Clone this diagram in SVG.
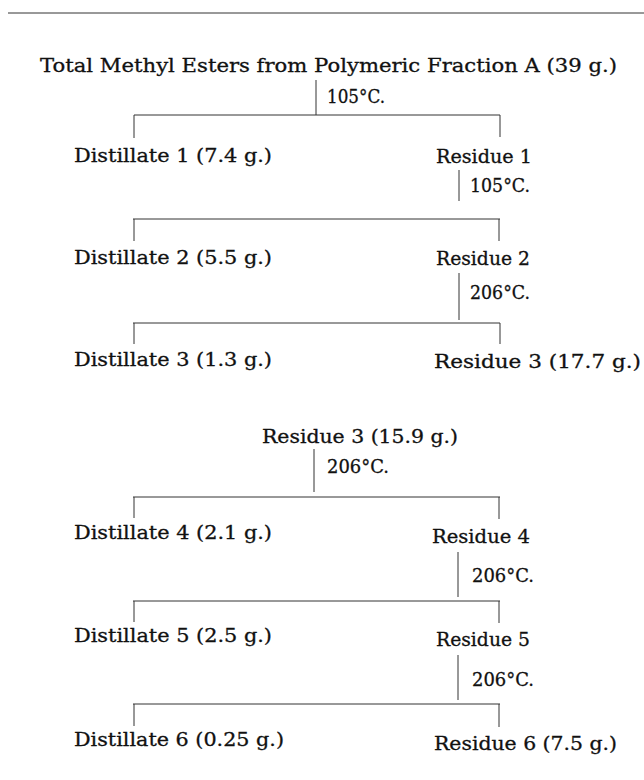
<svg xmlns="http://www.w3.org/2000/svg" width="644" height="780" viewBox="0 0 644 780">
<style>
text{font-family:"DejaVu Serif","Liberation Serif",serif;font-size:18.5px;fill:#111;stroke:#111;stroke-width:0.3}
.ln{stroke:#333;stroke-width:1;fill:none}
</style>
<rect width="644" height="780" fill="#fff"/>
<g id="connectors">
<line class="ln" x1="8" y1="13" x2="644" y2="13"/>
<path class="ln" d="M316 80V115M134 115H500M134 115V138M500 115V137"/>
<path class="ln" d="M459 170V201M133 219H500M134 219V241M499 219V241"/>
<path class="ln" d="M459 273V320M133 323H500M134 323V344M500 323V344"/>
<path class="ln" d="M314 449V492M133 497H500M134 497V518M499 497V519"/>
<path class="ln" d="M458 552V597M133 601H500M134 601V622M499 601V623"/>
<path class="ln" d="M458 655V700M133 704H500M134 704V726M499 704V727"/>
</g>
<g id="n0"><text x="40" y="72" textLength="577" lengthAdjust="spacingAndGlyphs">Total Methyl Esters from Polymeric Fraction A (39 g.)</text></g>
<g id="t1"><text x="327" y="103" textLength="58" lengthAdjust="spacingAndGlyphs">105°C.</text></g>
<g id="d1"><text x="74" y="162" textLength="198" lengthAdjust="spacingAndGlyphs">Distillate 1 (7.4 g.)</text></g>
<g id="r1"><text x="436" y="163" textLength="96" lengthAdjust="spacingAndGlyphs">Residue 1</text></g>
<g id="t2"><text x="470" y="192" textLength="60" lengthAdjust="spacingAndGlyphs">105°C.</text></g>
<g id="d2"><text x="74" y="264" textLength="198" lengthAdjust="spacingAndGlyphs">Distillate 2 (5.5 g.)</text></g>
<g id="r2"><text x="436" y="265" textLength="94" lengthAdjust="spacingAndGlyphs">Residue 2</text></g>
<g id="t3"><text x="470" y="299" textLength="60" lengthAdjust="spacingAndGlyphs">206°C.</text></g>
<g id="d3"><text x="74" y="366" textLength="198" lengthAdjust="spacingAndGlyphs">Distillate 3 (1.3 g.)</text></g>
<g id="r3"><text x="434" y="368" textLength="207" lengthAdjust="spacingAndGlyphs">Residue 3 (17.7 g.)</text></g>
<g id="r3b"><text x="262" y="443" textLength="196" lengthAdjust="spacingAndGlyphs">Residue 3 (15.9 g.)</text></g>
<g id="t4"><text x="327" y="473" textLength="62" lengthAdjust="spacingAndGlyphs">206°C.</text></g>
<g id="d4"><text x="74" y="539" textLength="198" lengthAdjust="spacingAndGlyphs">Distillate 4 (2.1 g.)</text></g>
<g id="r4"><text x="432" y="543" textLength="98" lengthAdjust="spacingAndGlyphs">Residue 4</text></g>
<g id="t5"><text x="472" y="582" textLength="62" lengthAdjust="spacingAndGlyphs">206°C.</text></g>
<g id="d5"><text x="74" y="642" textLength="198" lengthAdjust="spacingAndGlyphs">Distillate 5 (2.5 g.)</text></g>
<g id="r5"><text x="436" y="646" textLength="94" lengthAdjust="spacingAndGlyphs">Residue 5</text></g>
<g id="t6"><text x="472" y="686" textLength="62" lengthAdjust="spacingAndGlyphs">206°C.</text></g>
<g id="d6"><text x="74" y="746" textLength="210" lengthAdjust="spacingAndGlyphs">Distillate 6 (0.25 g.)</text></g>
<g id="r6"><text x="434" y="750" textLength="183" lengthAdjust="spacingAndGlyphs">Residue 6 (7.5 g.)</text></g>
</svg>
